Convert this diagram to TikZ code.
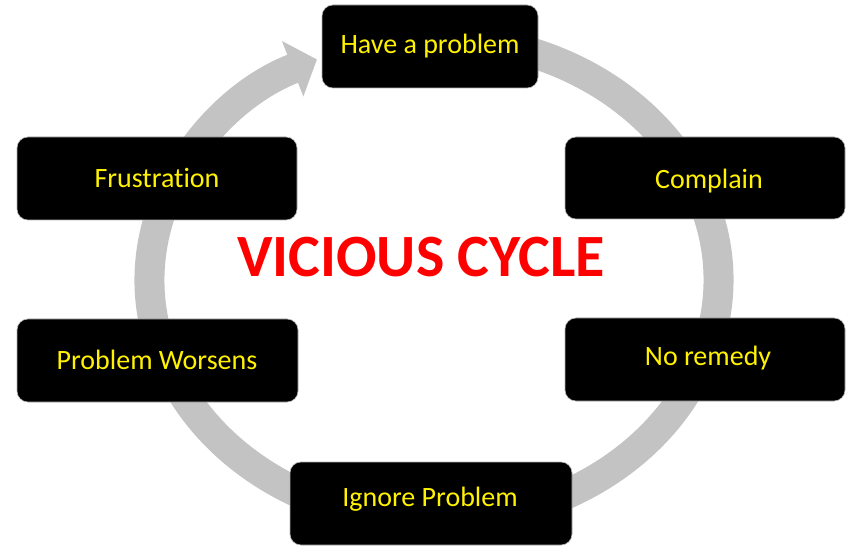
\documentclass[tikz,border=0pt]{standalone}
\usepackage{fontspec}
\setmainfont[Ligatures=NoCommon]{Carlito}
\usetikzlibrary{arrows.meta}
\definecolor{ringgray}{HTML}{C3C3C3}
\definecolor{txtyellow}{HTML}{FFF200}
\definecolor{titlered}{HTML}{FF0000}
\begin{document}
\begin{tikzpicture}[x=1pt,y=1pt,
  ringstyle/.style={draw=ringgray, line width=30pt, -{Triangle[length=26pt,width=58pt]}},
  stepbox/.style={fill=black, draw=gray!60, line width=0.6pt, rounded corners=11pt, inner sep=0pt},
  boxtext/.style={text=txtyellow, anchor=base, inner sep=0pt, font=\fontsize{28}{32}\selectfont},
  titletext/.style={text=titlered, anchor=base, inner sep=0pt, font=\fontsize{60}{70}\selectfont\bfseries}]
\useasboundingbox (0,0) rectangle (852,547);
\coordinate (ctr) at (434,267);
% ring with arrow
\draw[ringstyle] ([shift={(80:284.5pt and 242pt)}]ctr) arc[start angle=80, end angle=-245.7, x radius=284.5pt, y radius=242pt];
% boxes
\node[stepbox, minimum width=216pt, minimum height=83pt] (have) at (430,500.5) {};
\node[stepbox, minimum width=280pt, minimum height=83pt] (frus) at (157,368.5) {};
\node[stepbox, minimum width=280pt, minimum height=82pt] (comp) at (705,369) {};
\node[stepbox, minimum width=281pt, minimum height=83pt] (worse) at (157.5,186.5) {};
\node[stepbox, minimum width=280pt, minimum height=83pt] (remedy) at (705,187.5) {};
\node[stepbox, minimum width=282pt, minimum height=83pt] (ignore) at (431,43.5) {};
% texts
\node[boxtext] (thave) at (430,493.7) {Have a problem};
\node[boxtext] (tfrus) at (157,359) {Frustration};
\node[boxtext] (tcomp) at (709,358) {Complain};
\node[boxtext] (tworse) at (157,178) {Problem Worsens};
\node[boxtext] (tremedy) at (708,182) {No remedy};
\node[boxtext] (tignore) at (430,40.7) {Ignore Problem};
\node[titletext] (title) at (421,270) {VICIOUS CYCLE};
\end{tikzpicture}
\end{document}
